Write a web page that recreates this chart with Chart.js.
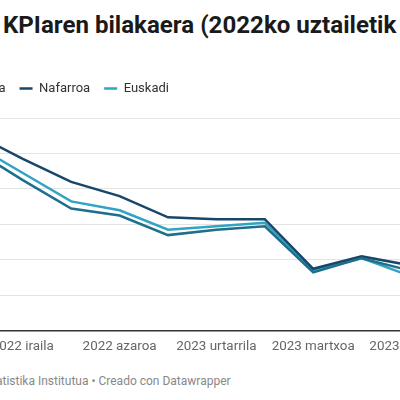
<!DOCTYPE html>
<html>
<head>
<meta charset="utf-8">
<script src="https://cdn.jsdelivr.net/npm/chart.js@4.4.0/dist/chart.umd.min.js"></script>
<style>
  html, body { margin: 0; padding: 0; }
  body { width: 400px; height: 400px; overflow: hidden; position: relative; background: #fff; font-family: Roboto, sans-serif; }
  #title { position: absolute; left: 3px; top: 13px; font-weight: 700; font-size: 24.1px; line-height: 24px; color: #1a1a1a; white-space: nowrap; }
  #chartWrap { position: absolute; left: -130px; top: 68px; width: 590px; height: 295px; }
  #footer { position: absolute; left: -21px; top: 375px; font-size: 12px; line-height: 12px; color: #888; white-space: nowrap; }
</style>
</head>
<body>
<div id="title">KPIaren bilakaera (2022ko uztailetik</div>
<div id="chartWrap"><canvas id="kpiChart"></canvas></div>
<div id="footer">Estatistika Institutua • Creado con Datawrapper</div>

<script>
// hilabeteak (2022ko uztaila - 2023ko maiatza)
const months = ['2022 uztaila', '2022 abuztua', '2022 iraila', '2022 urria', '2022 azaroa', '2022 abendua',
                '2023 urtarrila', '2023 otsaila', '2023 martxoa', '2023 apirila', '2023 maiatza'];

// KPIaren urteko aldakuntza (%)
const espainia = [10.6, 10.2, 8.5, 6.9, 6.5, 5.4, 5.7, 5.9, 3.3, 4.1, 3.4];
const nafarroa = [11.5, 11.1, 9.7, 8.4, 7.6, 6.4, 6.3, 6.3, 3.5, 4.2, 3.7];
const euskadi  = [10.8, 10.5, 8.9, 7.3, 6.8, 5.7, 5.9, 6.1, 3.4, 4.1, 3.1];

const yTicks = [0, 2, 4, 6, 8, 10, 12];

function series(label, data, color) {
    return {
        label: label,
        data: data,
        borderColor: color,
        backgroundColor: color,
        borderWidth: 2.5,
        pointRadius: 0,
        pointHoverRadius: 0,
        tension: 0,
        pointStyle: 'line'
    };
}

// legendaren eta grafikoaren arteko tartea
const legendGap = {
    id: 'legendGap',
    beforeInit(chart) {
        const fit = chart.legend.fit;
        chart.legend.fit = function () {
            fit.bind(chart.legend)();
            this.height += 13;
        };
    }
};

new Chart(document.getElementById('kpiChart'), {
    type: 'line',
    data: {
        labels: months,
        datasets: [
            series('Espainia', espainia, '#1e6f8c'),
            series('Nafarroa', nafarroa, '#19476a'),
            series('Euskadi', euskadi, '#30a4c2')
        ]
    },
    plugins: [legendGap],
    options: {
        responsive: true,
        maintainAspectRatio: false,
        animation: false,
        layout: { padding: { left: 53, right: 50, top: 0, bottom: 0 } },
        plugins: {
            tooltip: { enabled: false },
            legend: {
                position: 'top',
                align: 'start',
                labels: {
                    usePointStyle: true,
                    pointStyleWidth: 13,
                    padding: 14,
                    color: '#333',
                    font: { family: 'Roboto', size: 13 }
                }
            }
        },
        scales: {
            x: {
                grid: { display: false, drawTicks: false },
                border: { display: true, color: '#333', width: 1.5 },
                ticks: {
                    autoSkip: false,
                    maxRotation: 0,
                    padding: 8,
                    color: '#666',
                    font: { family: 'Roboto', size: 13.4 },
                    callback: function (value, index) {
                        return index % 2 === 0 ? months[index] : '';
                    }
                }
            },
            y: {
                min: 0,
                max: 12,
                afterBuildTicks: function (scale) {
                    scale.ticks = yTicks.map(v => ({ value: v }));
                },
                afterFit: function (scale) { scale.width = 3; },
                ticks: { display: false },
                border: { display: false },
                grid: {
                    drawTicks: false,
                    lineWidth: 1,
                    color: ctx => ctx.tick && ctx.tick.value === 0 ? 'rgba(0,0,0,0)' : '#e4e4e4'
                }
            }
        }
    }
});
</script>
</body>
</html>
